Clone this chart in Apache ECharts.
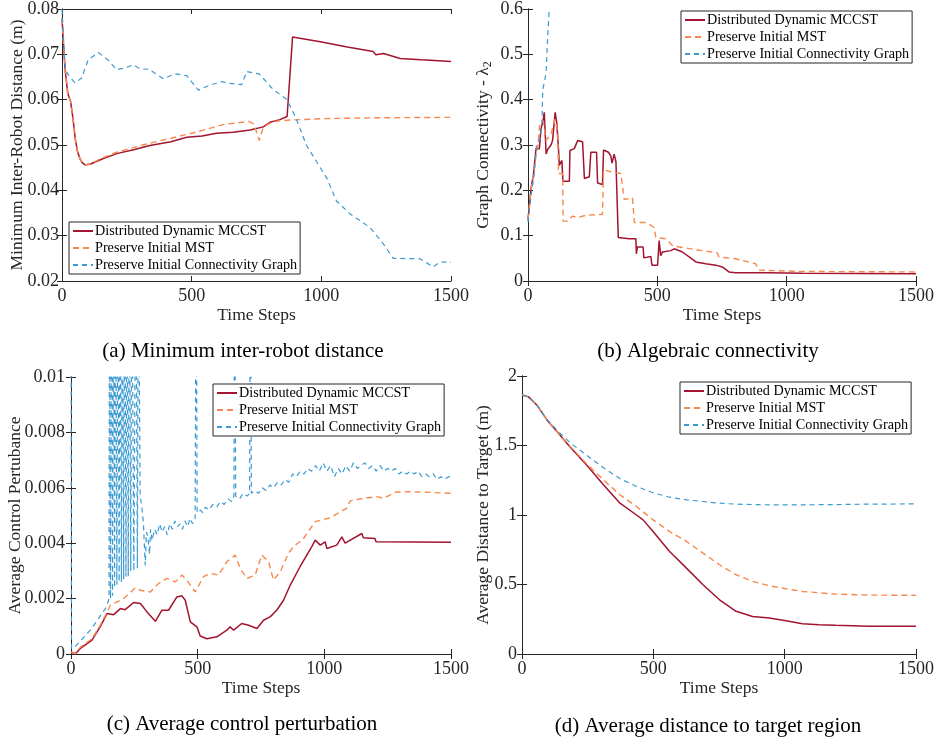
<!DOCTYPE html>
<html>
<head>
<meta charset="utf-8">
<script src="https://cdn.jsdelivr.net/npm/echarts@6/dist/echarts.min.js"></script>
<style>
    html, body {margin: 0; padding: 0; background: #fff;}
    #main {width: 937px; height: 740px;}
</style>
</head>
<body>
<div id="main"></div>
<script>
// series names
let names = ['Distributed Dynamic MCCST', 'Preserve Initial MST', 'Preserve Initial Connectivity Graph'];

// (a) minimum inter-robot distance, [time step, value]
let aMccst = [[0, 0.078], [6, 0.072], [12, 0.0666], [22, 0.0615], [33, 0.0596], [42, 0.056], [52, 0.051],
    [60, 0.0485], [69, 0.047], [78, 0.0461], [89, 0.0456], [110, 0.0458], [150, 0.0468], [211, 0.0481],
    [280, 0.049], [339, 0.0499], [420, 0.0507], [481, 0.0517], [540, 0.052], [596, 0.0526], [660, 0.0528],
    [725, 0.0533], [776, 0.054], [802, 0.055], [840, 0.0556], [868, 0.0563], [889, 0.0738], [996, 0.0728],
    [1100, 0.0716], [1200, 0.0706], [1210, 0.0699], [1240, 0.0702], [1304, 0.0691], [1385, 0.0688], [1500, 0.0684]];
let aMst = [[0, 0.078], [6, 0.072], [12, 0.0666], [22, 0.0615], [33, 0.0596], [42, 0.056], [52, 0.051],
    [60, 0.0485], [69, 0.047], [78, 0.0461], [89, 0.0456], [110, 0.0458], [150, 0.047], [211, 0.0484],
    [280, 0.0495], [339, 0.0504], [420, 0.0515], [500, 0.0526], [560, 0.0535], [620, 0.0545], [720, 0.0552],
    [740, 0.0546], [761, 0.051], [776, 0.0539], [814, 0.0552], [878, 0.0555], [1000, 0.0558], [1200, 0.056],
    [1500, 0.0561]];
let aConn = [[0, 0.08], [8, 0.071], [13, 0.0666], [24, 0.0655], [50, 0.0637], [76, 0.0648], [101, 0.0688],
    [140, 0.0704], [177, 0.0688], [211, 0.0666], [243, 0.067], [275, 0.0677], [301, 0.0668], [335, 0.0667],
    [391, 0.0646], [436, 0.0657], [481, 0.0653], [526, 0.0621], [565, 0.0631], [616, 0.064], [642, 0.0636],
    [693, 0.0633], [712, 0.0662], [737, 0.0659], [760, 0.0657], [815, 0.0622], [866, 0.0601], [898, 0.0565],
    [943, 0.0499], [1021, 0.0427], [1059, 0.0376], [1111, 0.0348], [1188, 0.0318], [1239, 0.0282],
    [1277, 0.025], [1380, 0.0249], [1432, 0.0231], [1458, 0.0242], [1500, 0.0241]];

// (b) algebraic connectivity
let bMccst = [[0, 0.135], [12, 0.205], [18, 0.205], [21, 0.234], [28, 0.235], [31, 0.292], [44, 0.292],
    [50, 0.335], [57, 0.35], [63, 0.372], [70, 0.28], [76, 0.29], [89, 0.3], [95, 0.31], [105, 0.372],
    [111, 0.35], [118, 0.29], [121, 0.255], [131, 0.266], [135, 0.22], [160, 0.22], [162, 0.288], [179, 0.292],
    [192, 0.31], [211, 0.307], [218, 0.226], [237, 0.23], [243, 0.284], [265, 0.284], [269, 0.216],
    [288, 0.213], [292, 0.289], [311, 0.284], [320, 0.276], [325, 0.26], [333, 0.28], [340, 0.263],
    [349, 0.096], [391, 0.093], [417, 0.093], [419, 0.06], [423, 0.075], [445, 0.075], [448, 0.051],
    [475, 0.054], [479, 0.035], [501, 0.035], [507, 0.089], [513, 0.056], [520, 0.064], [552, 0.067],
    [565, 0.071], [597, 0.064], [623, 0.053], [649, 0.042], [687, 0.038], [726, 0.035], [751, 0.031],
    [777, 0.02], [802, 0.018], [931, 0.018], [1059, 0.017], [1500, 0.016]];
let bMst = [[0, 0.135], [12, 0.205], [18, 0.205], [21, 0.234], [28, 0.235], [31, 0.277], [37, 0.292],
    [46, 0.35], [59, 0.353], [70, 0.31], [76, 0.31], [89, 0.324], [105, 0.357], [115, 0.328], [118, 0.237],
    [134, 0.237], [136, 0.132], [153, 0.132], [172, 0.143], [192, 0.14], [224, 0.145], [288, 0.147],
    [292, 0.245], [320, 0.241], [359, 0.237], [372, 0.18], [404, 0.183], [411, 0.129], [456, 0.129],
    [488, 0.118], [494, 0.096], [533, 0.093], [559, 0.078], [584, 0.075], [674, 0.067], [732, 0.062],
    [738, 0.053], [802, 0.049], [880, 0.038], [892, 0.024], [1059, 0.021], [1500, 0.02]];
let bConn = [[0, 0.13], [12, 0.19], [24, 0.234], [33, 0.302], [46, 0.313], [54, 0.35], [57, 0.422],
    [70, 0.458], [76, 0.538], [84, 0.62]];

// (c) average control perturbation
let cMccst = [[0, 0.00007], [17, 0.00001], [37, 0.0002], [83, 0.0005], [116, 0.001], [142, 0.00146],
    [168, 0.00142], [195, 0.00164], [214, 0.0016], [247, 0.00186], [274, 0.00182], [300, 0.00152],
    [333, 0.00118], [359, 0.00158], [385, 0.00158], [418, 0.00206], [438, 0.0021], [451, 0.00194],
    [471, 0.00116], [497, 0.00098], [510, 0.00065], [536, 0.00055], [576, 0.00062], [615, 0.00086],
    [628, 0.00098], [642, 0.00086], [674, 0.0011], [701, 0.00104], [734, 0.00092], [760, 0.00122],
    [786, 0.00134], [812, 0.00158], [839, 0.00194], [865, 0.00248], [904, 0.00315], [950, 0.00387],
    [964, 0.00411], [984, 0.00393], [1003, 0.00405], [1010, 0.00381], [1049, 0.00393], [1069, 0.00423],
    [1082, 0.004], [1148, 0.00435], [1154, 0.0042], [1200, 0.00417], [1204, 0.00405], [1500, 0.00403]];
let cMst = [[0, 0.00007], [17, 0.00001], [37, 0.00025], [83, 0.00055], [116, 0.00105], [142, 0.0015],
    [155, 0.00176], [208, 0.002], [254, 0.00239], [274, 0.0023], [313, 0.00224], [346, 0.00255],
    [379, 0.00273], [411, 0.0026], [438, 0.00285], [457, 0.00267], [490, 0.00224], [523, 0.00279],
    [550, 0.00291], [582, 0.00285], [615, 0.00333], [648, 0.00357], [668, 0.00309], [694, 0.00273],
    [727, 0.00285], [753, 0.00357], [780, 0.00333], [799, 0.00267], [826, 0.00297], [858, 0.00363],
    [878, 0.00387], [918, 0.00417], [964, 0.00478], [1016, 0.0049], [1042, 0.00502], [1088, 0.00526],
    [1102, 0.00553], [1154, 0.00562], [1207, 0.00568], [1233, 0.00562], [1279, 0.00584], [1332, 0.00586],
    [1404, 0.00584], [1500, 0.0058]];
let cConn = [[0, 0.015], [2, 0.0002], [20, 0.0003], [50, 0.0006], [80, 0.0009], [110, 0.0013], [140, 0.0017],
    [150, 0.002], [152, 0.015], [156, 0.002], [160, 0.015], [164, 0.0021], [168, 0.015], [172, 0.0024],
    [176, 0.015], [181, 0.0025], [185, 0.015], [190, 0.0026], [194, 0.015], [199, 0.0026], [203, 0.015],
    [208, 0.0027], [212, 0.015], [217, 0.0028], [221, 0.015], [226, 0.0028], [230, 0.015], [236, 0.003],
    [240, 0.015], [248, 0.003], [256, 0.015], [262, 0.0031], [266, 0.015], [273, 0.0057], [280, 0.0053],
    [286, 0.0047], [293, 0.0032], [298, 0.0044], [304, 0.0042], [310, 0.0036], [314, 0.0045],
    [320, 0.0041], [330, 0.0045], [340, 0.0043], [350, 0.0047], [360, 0.0044], [370, 0.0046], [380, 0.0043],
    [390, 0.0047], [400, 0.0045], [410, 0.0048], [420, 0.0046], [430, 0.0047], [440, 0.0045], [450, 0.0048],
    [460, 0.0046], [470, 0.0049], [480, 0.0047], [490, 0.0049], [494, 0.015], [498, 0.0051], [510, 0.0052],
    [520, 0.0051], [530, 0.0053], [545, 0.0052], [560, 0.0054], [575, 0.0053], [590, 0.0055], [605, 0.0054],
    [620, 0.0056], [635, 0.0055], [643, 0.0057], [646, 0.015], [650, 0.0057], [665, 0.0056], [680, 0.0058],
    [695, 0.0057], [705, 0.0058], [708, 0.015], [712, 0.0058], [725, 0.0059], [740, 0.0058], [755, 0.006],
    [770, 0.0059], [785, 0.0061], [800, 0.006], [815, 0.0062], [830, 0.0061], [845, 0.0063], [860, 0.0062],
    [875, 0.0065], [890, 0.0064], [905, 0.0066], [920, 0.0065], [935, 0.0067], [950, 0.0066], [965, 0.0068],
    [980, 0.0066], [995, 0.0069], [1010, 0.0066], [1025, 0.0068], [1040, 0.0064], [1055, 0.0067],
    [1070, 0.0065], [1085, 0.0068], [1100, 0.0066], [1115, 0.0069], [1130, 0.0067], [1145, 0.0068],
    [1160, 0.0069], [1175, 0.0067], [1190, 0.0068], [1205, 0.0066], [1220, 0.0068], [1235, 0.0066],
    [1250, 0.0067], [1265, 0.0066], [1280, 0.0067], [1295, 0.0065], [1310, 0.0066], [1325, 0.0065],
    [1340, 0.0066], [1355, 0.0065], [1370, 0.0066], [1385, 0.0064], [1400, 0.0065], [1415, 0.0064],
    [1430, 0.0065], [1445, 0.0063], [1460, 0.0064], [1475, 0.0063], [1490, 0.0064], [1500, 0.0064]];

// (d) average distance to target region
let dMccst = [[0, 1.863], [25, 1.85], [57, 1.79], [95, 1.684], [133, 1.6], [183, 1.49], [246, 1.36],
    [310, 1.217], [373, 1.085], [436, 1.0], [461, 0.965], [499, 0.881], [562, 0.738], [626, 0.618],
    [689, 0.498], [752, 0.39], [815, 0.307], [878, 0.27], [941, 0.259], [1005, 0.24], [1068, 0.218],
    [1131, 0.211], [1194, 0.206], [1320, 0.2], [1500, 0.199]];
let dMst = [[0, 1.863], [25, 1.85], [57, 1.79], [95, 1.684], [133, 1.6], [183, 1.495], [246, 1.368],
    [310, 1.253], [373, 1.145], [436, 1.061], [499, 0.965], [562, 0.881], [626, 0.81], [689, 0.726],
    [752, 0.642], [815, 0.57], [878, 0.522], [941, 0.491], [1005, 0.469], [1068, 0.45], [1194, 0.431],
    [1320, 0.424], [1500, 0.422]];
let dConn = [[0, 1.863], [25, 1.85], [57, 1.79], [95, 1.688], [133, 1.61], [183, 1.52], [246, 1.43],
    [310, 1.34], [373, 1.262], [436, 1.205], [499, 1.16], [562, 1.128], [626, 1.109], [689, 1.097],
    [752, 1.085], [815, 1.078], [941, 1.073], [1068, 1.073], [1194, 1.075], [1320, 1.078], [1500, 1.08]];

// tick settings
let xTicks = {min: 0, max: 1500, interval: 500};
let yRanges = [
    {min: 0.02, max: 0.08, interval: 0.01, digits: 2},
    {min: 0, max: 0.6, interval: 0.1, digits: 1},
    {min: 0, max: 0.01, interval: 0.002, digits: 3},
    {min: 0, max: 2, interval: 0.5, digits: 1}
];
let yTitles = ['Minimum Inter-Robot Distance (m)', 'Graph Connectivity - λ{sub|2}',
    'Average Control Pertubance', 'Average Distance to Target (m)'];
let captions = ['(a) Minimum inter-robot distance', '(b) Algebraic connectivity',
    '(c) Average control perturbation', '(d) Average distance to target region'];

let font = 'Liberation Serif';
let ink = '#262626';
let colors = ['#A2142F', '#F7894F', '#3A9AD2'];

let grids = [
    {left: 62, top: 5, width: 389, height: 276},
    {left: 528, top: 5, width: 390, height: 276},
    {left: 71, top: 377, width: 380, height: 277},
    {left: 522, top: 376, width: 395, height: 278}
];
let yNameGaps = [36, 34, 47, 30];
let yLabelMargins = [3, 5, 6, 5];
let legendPos = [{left: 69, top: 222}, {left: 681, top: 11}, {left: 213, top: 384}, {left: 680, top: 382}];
let captionPos = [{x: 238, y: 336}, {x: 703, y: 336}, {x: 237, y: 709}, {x: 703, y: 711}];

let chart = echarts.init(document.getElementById('main'));

let xAxes = [];
let yAxes = [];
let series = [];
let legends = [];
let titles = [];

let panels = [
    [aMccst, aMst, aConn],
    [bMccst, bMst, bConn],
    [cMccst, cMst, cConn],
    [dMccst, dMst, dConn]
];

function fmt(digits) {
    return function (v) {
        if (Math.abs(v) < 1e-12) {
            return '0';
        }
        return parseFloat(v.toFixed(digits)).toString();
    };
}

panels.forEach(function (data, i) {
    let yr = yRanges[i];
    let lineBase = {show: true, lineStyle: {color: ink, width: 1}};
    let tickBase = {show: true, inside: true, length: 5, lineStyle: {color: ink}};

    // bottom and top x axes
    xAxes.push({
        type: 'value', gridIndex: i, min: xTicks.min, max: xTicks.max, interval: xTicks.interval,
        axisLine: lineBase, axisTick: tickBase, splitLine: {show: false},
        axisLabel: {color: ink, fontFamily: font, fontSize: 18, margin: 6, formatter: function (v) { return String(v); }},
        name: 'Time Steps', nameLocation: 'middle', nameGap: 25,
        nameTextStyle: {color: ink, fontFamily: font, fontSize: 17.5}
    });
    xAxes.push({
        type: 'value', gridIndex: i, position: 'top', min: xTicks.min, max: xTicks.max, interval: xTicks.interval,
        axisLine: lineBase, axisTick: tickBase, splitLine: {show: false}, axisLabel: {show: false}
    });

    // left and right y axes
    yAxes.push({
        type: 'value', gridIndex: i, min: yr.min, max: yr.max, interval: yr.interval,
        axisLine: lineBase, axisTick: tickBase, splitLine: {show: false},
        axisLabel: {color: ink, fontFamily: font, fontSize: 18, margin: yLabelMargins[i], formatter: fmt(yr.digits)},
        name: yTitles[i], nameLocation: 'middle', nameGap: yNameGaps[i], nameRotate: 90,
        nameMoveOverlap: false,
        nameTextStyle: {
            color: ink, fontFamily: font, fontSize: 17.5,
            rich: {sub: {fontFamily: font, fontSize: 12, color: ink, verticalAlign: 'bottom', padding: [9, 0, 0, 0]}}
        }
    });
    yAxes.push({
        type: 'value', gridIndex: i, position: 'right', min: yr.min, max: yr.max, interval: yr.interval,
        axisLine: lineBase, axisTick: tickBase, splitLine: {show: false}, axisLabel: {show: false}
    });

    let styles = [
        {color: colors[0], width: 1.5, type: 'solid'},
        {color: colors[1], width: 1.4, type: [6, 4]},
        {color: colors[2], width: 1.2, type: [5, 4]}
    ];

    data.forEach(function (d, k) {
        series.push({
            name: names[k] + ' ' + i,
            type: 'line',
            xAxisIndex: i * 2,
            yAxisIndex: i * 2,
            data: d,
            symbol: 'none',
            showSymbol: false,
            clip: true,
            animation: false,
            lineStyle: styles[k],
            itemStyle: {color: styles[k].color}
        });
    });

    legends.push({
        data: names.map(function (n) { return {name: n + ' ' + i}; }),
        formatter: function (n) { return n.slice(0, n.length - 2); },
        orient: 'vertical',
        left: legendPos[i].left,
        top: legendPos[i].top,
        itemWidth: 20,
        itemHeight: 14,
        itemGap: 3,
        padding: [2, 3, 2, 3],
        backgroundColor: '#fff',
        borderColor: ink,
        borderWidth: 1,
        selectedMode: false,
        itemStyle: {opacity: 0},
        textStyle: {color: '#000', fontFamily: font, fontSize: 14.2, padding: [0, 0, 0, -3]}
    });

    titles.push({
        text: captions[i],
        left: captionPos[i].x,
        top: captionPos[i].y,
        textAlign: 'center',
        textStyle: {color: '#000', fontFamily: font, fontSize: 21, fontWeight: 'normal'}
    });
});

chart.setOption({
    backgroundColor: '#fff',
    animation: false,
    title: titles,
    grid: grids,
    xAxis: xAxes,
    yAxis: yAxes,
    legend: legends,
    series: series
});
</script>
</body>
</html>
